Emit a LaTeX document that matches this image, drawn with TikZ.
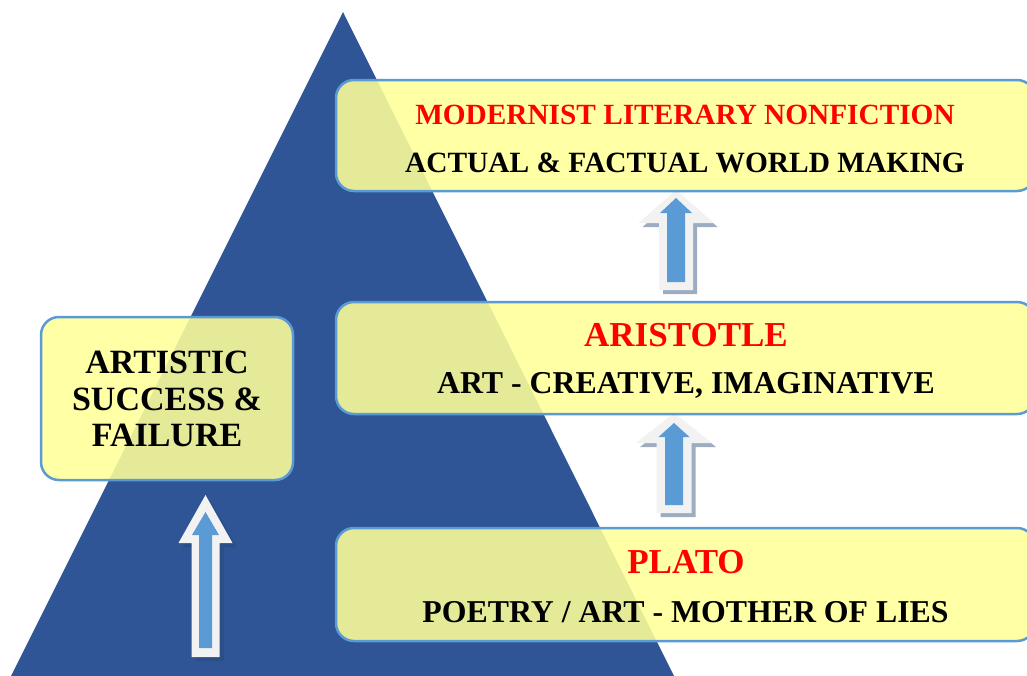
\documentclass[tikz,border=0pt]{standalone}
\usepackage{fontspec}
\setmainfont{Liberation Serif}
\definecolor{pyr}{HTML}{2F5597}
\definecolor{rim}{HTML}{5B9BD5}
\definecolor{pad}{HTML}{FFFF99}
\definecolor{shell}{HTML}{F2F2F2}
\definecolor{shade}{RGB}{40,70,120}
\usetikzlibrary{positioning,calc}
\tikzset{
  card/.style={draw=rim,line width=2.5pt,rounded corners=18pt,fill=pad,fill opacity=0.88,inner sep=0pt},
  redbig/.style={text=red,font=\bfseries\fontsize{35}{40}\selectfont,anchor=base,inner sep=0pt},
  redsm/.style={text=red,font=\bfseries\fontsize{29.3}{36}\selectfont,anchor=base,inner sep=0pt},
  sub/.style={font=\bfseries\fontsize{29.4}{36}\selectfont,anchor=base,inner sep=0pt},
  subbig/.style={sub,font=\bfseries\fontsize{31.8}{36}\selectfont},
  outer/.style={fill=shell},
  inner/.style={fill=rim},
  drop/.style={fill=shade,fill opacity=0.45},
}
% up arrow: centre x, tip y, neck y, foot y, half head, half shaft
\newcommand{\uparr}[6]{(#1,#2) -- (#1+#5,#3) -- (#1+#6,#3) -- (#1+#6,#4) -- (#1-#6,#4) -- (#1-#6,#3) -- (#1-#5,#3) -- cycle}

\begin{document}
\begin{tikzpicture}[x=1pt,y=-1pt]
\useasboundingbox (0,0) rectangle (1027,675);
% pyramid
\fill[pyr] (343,12) -- (674,676) -- (11,676) -- cycle;

% left arrow
\fill[drop] \uparr{209.5}{499}{547}{661}{27}{14};
\fill[outer] \uparr{205.5}{495}{543}{657}{27}{14};
\fill[inner] \uparr{205.5}{512}{535}{648}{13.5}{6.5};

% right arrows
\fill[drop] \uparr{680}{194}{227}{294}{37.5}{17};
\fill[outer] \uparr{676}{190}{223}{290}{37.5}{17};
\fill[inner] \uparr{676}{198}{213}{282}{16}{9};
\fill[drop] \uparr{678}{417}{447}{517}{38}{17.5};
\fill[outer] \uparr{674}{413}{443}{513}{38}{17.5};
\fill[inner] \uparr{674}{423}{437}{505}{15.5}{9};

% boxes
\node[card,minimum width=699,minimum height=111] (modern) at (685.5,135.5) {};
\node[card,minimum width=699,minimum height=112] (aristotle) at (685.5,358) {};
\node[card,minimum width=699,minimum height=113] (plato) at (685.5,584.5) {};
\node[card,minimum width=252,minimum height=163] (success) at (167,398.5) {};

% labels
\node[redsm] (modernA) at (685,124) {MODERNIST LITERARY NONFICTION};
\node[sub] (modernB) at (685,172) {ACTUAL \& FACTUAL WORLD MAKING};
\node[redbig] (aristotleA) at (686,346) {ARISTOTLE};
\node[subbig] (aristotleB) at (686,393) {ART - CREATIVE, IMAGINATIVE};
\node[redbig] (platoA) at (686,573) {PLATO};
\node[subbig] (platoB) at (685.5,622) {POETRY / ART - MOTHER OF LIES};
\node[font=\bfseries\fontsize{34}{36.5}\selectfont,align=center,inner sep=0pt] (successT) at (167,399) {ARTISTIC\\SUCCESS \&\\FAILURE};
\end{tikzpicture}
\end{document}
